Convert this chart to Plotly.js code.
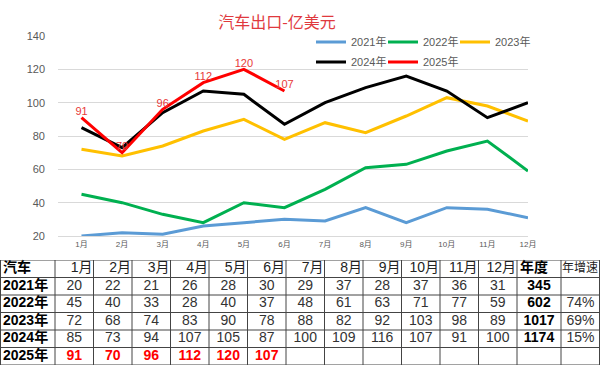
<!DOCTYPE html>
<html>
<head>
<meta charset="utf-8">
<script src="https://cdn.plot.ly/plotly-3.0.1.min.js"></script>
<style>html,body{margin:0;padding:0;background:#fff;}#chart{width:600px;height:366px;}</style>
</head>
<body>
<div id="chart"></div>
<script>
const months = ['1月','2月','3月','4月','5月','6月','7月','8月','9月','10月','11月','12月'];
const years = ['2021年','2022年','2023年','2024年','2025年'];
const y2021 = [20,22,21,26,28,30,29,37,28,37,36,31];
const y2022 = [45,40,33,28,40,37,48,61,63,71,77,59];
const y2023 = [72,68,74,83,90,78,88,82,92,103,98,89];
const y2024 = [85,73,94,107,105,87,100,109,116,107,91,100];
const y2025 = [91,70,96,112,120,107];
const annual = [345,602,1017,1174,''];
const growth = ['','74%','69%','15%',''];
const tableCorner = '汽车';
const annualHead = '年度';
const growthHead = '年增速';
const colors = ['#5b9bd5','#00b050','#ffc000','#000000','#ff0000'];

const series = [y2021,y2022,y2023,y2024,y2025];
const FONT = 'Liberation Sans, Noto Sans CJK SC, sans-serif';
const legendIds = ['legend','legend2','legend3','legend4','legend5'];

const traces = series.map((ys,i)=>({
  type:'scatter', mode: i===4 ? 'lines+text' : 'lines',
  x: months.slice(0, ys.length), y: ys, name: years[i],
  line:{color:colors[i], width:3},
  text: i===4 ? ys.map(String) : undefined,
  textposition:'top center',
  textfont:{color:'#e83a3a', size:11, family:FONT},
  legend: legendIds[i],
  xaxis:'x', yaxis:'y', hoverinfo:'skip', cliponaxis:false
}));

// ---- table drawn on its own axes (x2: pixel-like column units, y2: row index) ----
const colWidths = [55].concat(months.map(()=>38.5)).concat([44,39]);
const colEdges = [0];
colWidths.forEach(w=>colEdges.push(colEdges[colEdges.length-1]+w));
const nRows = years.length + 1;

const tx=[], ty=[], tt=[], tc=[], tp=[], ts=[];
function addCell(col,row,text,color,align,size,pad){
  const l=colEdges[col], r=colEdges[col+1];
  if(align==='left'){tx.push(l+(pad===undefined?3:pad)); tp.push('middle right');}
  else if(align==='right'){tx.push(r-1); tp.push('middle left');}
  else {tx.push((l+r)/2); tp.push('middle center');}
  ty.push(row+0.5); tt.push(text); tc.push(color); ts.push(size||14);
}
// header row
addCell(0,0,'<b>'+tableCorner+'</b>','#000','left');
months.forEach((m,j)=>addCell(j+1,0,m,'#222','right'));
addCell(13,0,'<b>'+annualHead+'</b>','#000','left');
addCell(14,0,growthHead,'#222','left',12,1);
// body rows
years.forEach((yr,i)=>{
  const row=i+1;
  addCell(0,row,'<b>'+yr+'</b>','#000','left');
  series[i].forEach((v,j)=>{
    if(i===4) addCell(j+1,row,'<b>'+v+'</b>','#ff0000','center');
    else addCell(j+1,row,String(v),'#333','center');
  });
  if(annual[i]!=='') addCell(13,row,'<b>'+annual[i]+'</b>','#000','center');
  if(growth[i]!=='') addCell(14,row,growth[i],'#333','center');
});
traces.push({
  type:'scatter', mode:'text', x:tx, y:ty, text:tt, textposition:tp,
  textfont:{family:FONT, size:ts, color:tc},
  xaxis:'x2', yaxis:'y2', showlegend:false, hoverinfo:'skip', cliponaxis:false
});

const shapes=[];
colEdges.forEach((e,k)=>{
  const xe = k===colEdges.length-1 ? e-0.5 : (k===0 ? 0.5 : e);
  shapes.push({type:'line', xref:'x2', yref:'y2', x0:xe, x1:xe, y0:0, y1:nRows,
    line:{color:'#444', width:1}});
});
for(let r=0;r<=nRows;r++){
  shapes.push({type:'line', xref:'x2', yref:'y2', x0:0, x1:colEdges[colEdges.length-1], y0:r, y1:r,
    line:{color:'#444', width:1}});
}

const layout = {
  width:600, height:366,
  margin:{l:0,r:0,t:0,b:0, autoexpand:false},
  paper_bgcolor:'#fff', plot_bgcolor:'rgba(0,0,0,0)',
  font:{family:FONT, color:'#595959'},
  title:{text:'汽车出口-亿美元', x:277/600, xanchor:'center', y:1-22/366, yanchor:'middle',
    font:{family:'Noto Sans CJK SC, sans-serif', size:16, color:'#e0393e'}},
  xaxis:{domain:[58/600, 528/600], type:'category', showgrid:false, zeroline:false,
    showline:true, linecolor:'#d9d9d9', linewidth:1, ticks:'',
    tickfont:{size:8, color:'#595959'}, fixedrange:true},
  yaxis:{domain:[(366-236)/366, (366-36)/366], range:[20,140], dtick:20, tick0:20,
    showgrid:true, gridcolor:'#d9d9d9', gridwidth:1, zeroline:false, showline:false,
    ticks:'', ticklabelstandoff:12, tickfont:{size:11, color:'#595959'}, fixedrange:true},
  xaxis2:{domain:[0,1], range:[0,600], visible:false, fixedrange:true},
  yaxis2:{domain:[1/366, 106/366], range:[nRows,0], visible:false, fixedrange:true},
  shapes:shapes,
  showlegend:true
};
const legX = [311, 383, 455, 311, 383];
const legY = [42, 42, 42, 62, 62];
legendIds.forEach((id,i)=>{
  layout[id] = {orientation:'h', x:legX[i]/600, xanchor:'left', y:1-legY[i]/366, yanchor:'middle',
    bgcolor:'rgba(0,0,0,0)', font:{size:11, color:'#595959'}, itemwidth:30};
});

Plotly.newPlot('chart', traces, layout, {staticPlot:true, displayModeBar:false});
</script>
</body>
</html>
